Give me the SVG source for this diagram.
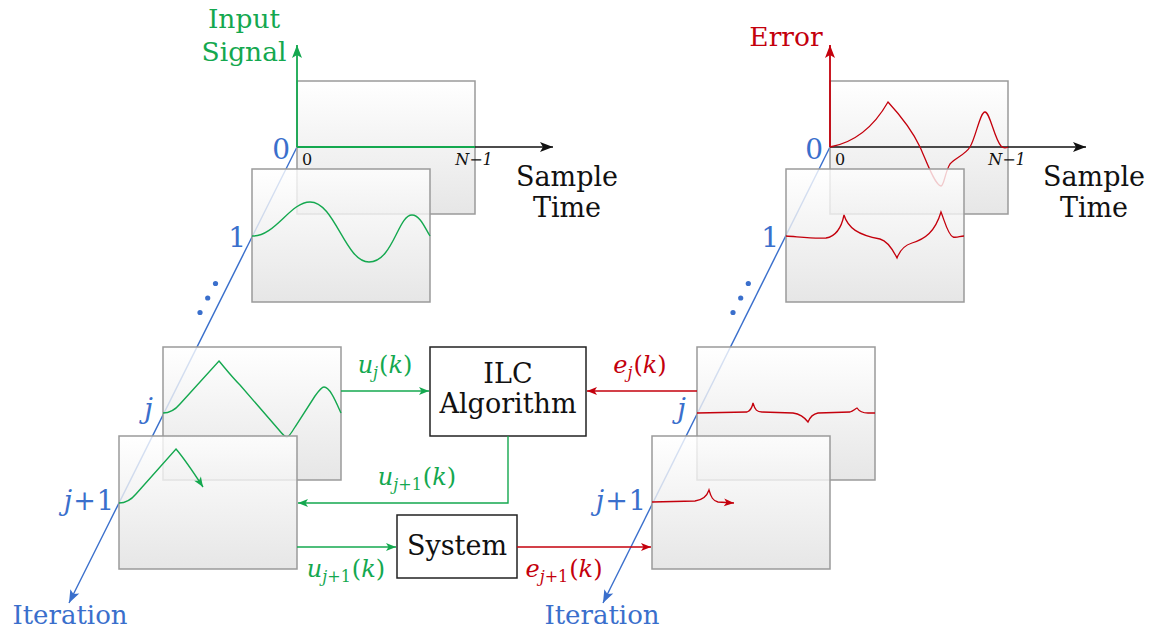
<svg xmlns="http://www.w3.org/2000/svg" width="1156" height="630" viewBox="0 0 1156 630">
<style>
.frame{fill:url(#fr);fill-opacity:0.8;stroke:#9a9a9a;stroke-width:1.5}
.box{fill:#fff;stroke:#222;stroke-width:1.5}
.blue{fill:#3a6fcc}
.green{fill:#14a84f}
.red{fill:#c4000c}
.blk{fill:#111}
.gc{fill:none;stroke:#14a84f;stroke-width:1.4}
.rc{fill:none;stroke:#c4000c;stroke-width:1.3}
.it{font-style:italic}
</style>
<defs>
<linearGradient id="fr" x1="0" y1="0" x2="0" y2="1">
<stop offset="0" stop-color="#ffffff"/>
<stop offset="1" stop-color="#e0e0e0"/>
</linearGradient>
<marker id="aK" viewBox="-14 -6 15 12" refX="0" refY="0" markerWidth="15" markerHeight="12" orient="auto" markerUnits="userSpaceOnUse"><path d="M0,0 L-13,-5 L-10,0 L-13,5 Z" fill="#111"/></marker>
<marker id="aG" viewBox="-14 -6 15 12" refX="0" refY="0" markerWidth="15" markerHeight="12" orient="auto" markerUnits="userSpaceOnUse"><path d="M0,0 L-13,-5 L-10,0 L-13,5 Z" fill="#14a84f"/></marker>
<marker id="aR" viewBox="-14 -6 15 12" refX="0" refY="0" markerWidth="15" markerHeight="12" orient="auto" markerUnits="userSpaceOnUse"><path d="M0,0 L-13,-5 L-10,0 L-13,5 Z" fill="#c4000c"/></marker>
<marker id="aB" viewBox="-14 -6 15 12" refX="0" refY="0" markerWidth="15" markerHeight="12" orient="auto" markerUnits="userSpaceOnUse"><path d="M0,0 L-13,-5 L-10,0 L-13,5 Z" fill="#3a6fcc"/></marker>
<marker id="sG" viewBox="-11 -5 12 10" refX="0" refY="0" markerWidth="12" markerHeight="10" orient="auto" markerUnits="userSpaceOnUse"><path d="M0,0 L-10,-4 L-7.5,0 L-10,4 Z" fill="#14a84f"/></marker>
<marker id="sR" viewBox="-11 -5 12 10" refX="0" refY="0" markerWidth="12" markerHeight="10" orient="auto" markerUnits="userSpaceOnUse"><path d="M0,0 L-10,-4 L-7.5,0 L-10,4 Z" fill="#c4000c"/></marker>
</defs>
<g font-family="'DejaVu Serif', serif">

<!-- iteration axes -->
<g id="iteration-axes">
<line x1="297" y1="147" x2="69" y2="603" stroke="#3a6fcc" stroke-width="1.4" marker-end="url(#aB)"/>
<line x1="830" y1="147" x2="603" y2="603" stroke="#3a6fcc" stroke-width="1.4" marker-end="url(#aB)"/>
<circle cx="215.5" cy="283.5" r="2.6" class="blue"/>
<circle cx="207.7" cy="298" r="2.6" class="blue"/>
<circle cx="200" cy="312.5" r="2.6" class="blue"/>
<circle cx="748.3" cy="283.5" r="2.6" class="blue"/>
<circle cx="740.7" cy="298" r="2.6" class="blue"/>
<circle cx="733" cy="312.5" r="2.6" class="blue"/>
<text x="70" y="624" class="blue" font-size="26" text-anchor="middle">Iteration</text>
<text x="602" y="624" class="blue" font-size="26" text-anchor="middle">Iteration</text>
<text x="290" y="159" class="blue" font-size="28" text-anchor="end">0</text>
<text x="246" y="247" class="blue" font-size="28" text-anchor="end">1</text>
<text x="153" y="418" class="blue it" font-size="28" text-anchor="end">j</text>
<text x="114" y="510" class="blue" font-size="27" text-anchor="end"><tspan class="it">j</tspan><tspan dx="1">+</tspan><tspan dx="1">1</tspan></text>
<text x="823" y="159" class="blue" font-size="28" text-anchor="end">0</text>
<text x="779" y="247" class="blue" font-size="28" text-anchor="end">1</text>
<text x="686" y="418" class="blue it" font-size="28" text-anchor="end">j</text>
<text x="646" y="510" class="blue" font-size="27" text-anchor="end"><tspan class="it">j</tspan><tspan dx="1">+</tspan><tspan dx="1">1</tspan></text>
</g>

<!-- LEFT: input signal -->
<g id="input-frame-0">
<rect x="297" y="81" width="178" height="133" class="frame"/>
</g>
<g id="input-axes">
<line x1="297" y1="147" x2="553" y2="147" stroke="#111" stroke-width="1.6" marker-end="url(#aK)"/>
<line x1="297" y1="147" x2="297" y2="45" stroke="#14a84f" stroke-width="1.8" marker-end="url(#aG)"/>
<line x1="297" y1="147" x2="475" y2="147" stroke="#14a84f" stroke-width="1.8"/>
<text x="244" y="28" class="green" font-size="26.5" text-anchor="middle">Input</text>
<text x="244" y="61" class="green" font-size="26.5" text-anchor="middle">Signal</text>
<text x="302" y="165" class="blk" font-size="16">0</text>
<text x="474" y="165" class="blk it" font-size="16" text-anchor="middle">N−1</text>
<text x="567" y="186" class="blk" font-size="27" text-anchor="middle">Sample</text>
<text x="567" y="217" class="blk" font-size="27" text-anchor="middle">Time</text>
</g>
<g id="input-frame-1">
<rect x="252" y="169" width="178" height="133" class="frame"/>
<path class="gc" d="M252,236 C275,237 290,202 310,202 C335,202 345,262 369,262 C393,262 398,215 412,215 C420,215 425,228 430,236"/>
</g>
<g id="input-frame-j">
<rect x="163" y="347" width="178" height="133" class="frame"/>
<path class="gc" d="M163,413 C170,413 175,410 180,404 L219,361 C225,368 232,377 240,385 L279,430 C283,435 285,437 287,437 C289,437 292,432 295,427 L315,396 C320,389 322,387 324,387 C330,387 336,402 341,413"/>
</g>
<g id="input-frame-j1">
<rect x="119" y="436" width="178" height="133" class="frame"/>
<path class="gc" d="M119,503 C126,503 131,500 136,494 L176,449 C182,456 190,467 203,487" marker-end="url(#sG)"/>
</g>

<!-- RIGHT: error -->
<g id="error-frame-0">
<rect x="830" y="81" width="178" height="133" class="frame"/>
</g>
<g id="error-axes">
<line x1="830" y1="147" x2="1086" y2="147" stroke="#111" stroke-width="1.6" marker-end="url(#aK)"/>
<line x1="830" y1="147" x2="830" y2="45" stroke="#c4000c" stroke-width="1.8" marker-end="url(#aR)"/>
<path class="rc" d="M830,147 C852,143 872,130 888,102 C900,115 912,130 920,147 C926,160 935,186 941,186 C944,186 945,172 950,164 C955,158 965,155 970,147 C976,137 980,112 985,112 C990,112 994,138 1001,146 C1004,149 1006,148 1008,147"/>
<text x="786" y="46" class="red" font-size="26.5" text-anchor="middle">Error</text>
<text x="835" y="165" class="blk" font-size="16">0</text>
<text x="1007" y="165" class="blk it" font-size="16" text-anchor="middle">N−1</text>
<text x="1094" y="186" class="blk" font-size="27" text-anchor="middle">Sample</text>
<text x="1094" y="217" class="blk" font-size="27" text-anchor="middle">Time</text>
</g>
<g id="error-frame-1">
<rect x="786" y="169" width="178" height="133" class="frame"/>
<path class="rc" d="M786,236 C800,237 815,239 826,238 C838,236 842,225 844,215 C848,228 858,235 880,239 C888,241 893,250 897,258 C900,250 905,245 912,243 C925,239 935,232 941,212 C945,222 948,235 953,237 C957,238 960,236 964,236"/>
</g>
<g id="error-frame-j">
<rect x="697" y="347" width="178" height="133" class="frame"/>
<path class="rc" d="M697,413 L747,412 C750,411 752,408 753,403 C755,410 757,412 762,412 L793,413 C800,414 805,418 808,422 C810,417 813,414 818,413 L850,412 C853,411 855,409 857,408 C859,411 862,413 868,413 L875,413"/>
</g>
<g id="error-frame-j1">
<rect x="652" y="436" width="178" height="133" class="frame"/>
<path class="rc" d="M652,502 L695,501 C703,500 707,496 709,490 C711,497 713,501 718,502 L734,503" marker-end="url(#sR)"/>
</g>

<!-- blocks -->
<g id="ilc">
<rect x="430" y="347" width="156" height="89" class="box"/>
<text x="508" y="383" class="blk" font-size="27" text-anchor="middle">ILC</text>
<text x="508" y="413" class="blk" font-size="27" text-anchor="middle">Algorithm</text>
</g>
<g id="system">
<rect x="397" y="515" width="120" height="63" class="box"/>
<text x="457" y="555" class="blk" font-size="27" text-anchor="middle">System</text>
</g>

<!-- connectors -->
<g id="connectors">
<line x1="341" y1="391" x2="429" y2="391" stroke="#14a84f" stroke-width="1.4" marker-end="url(#sG)"/>
<line x1="697" y1="391" x2="587" y2="391" stroke="#c4000c" stroke-width="1.4" marker-end="url(#sR)"/>
<polyline points="508,436 508,503 298,503" fill="none" stroke="#14a84f" stroke-width="1.4" marker-end="url(#sG)"/>
<line x1="297" y1="547" x2="396" y2="547" stroke="#14a84f" stroke-width="1.4" marker-end="url(#sG)"/>
<line x1="517" y1="547" x2="651" y2="547" stroke="#c4000c" stroke-width="1.4" marker-end="url(#sR)"/>
<text x="385" y="373" class="green" font-size="24" text-anchor="middle"><tspan class="it">u</tspan><tspan class="it" font-size="16" dy="5">j</tspan><tspan dy="-5" dx="1">(</tspan><tspan class="it">k</tspan>)</text>
<text x="640" y="373" class="red" font-size="24" text-anchor="middle"><tspan class="it">e</tspan><tspan class="it" font-size="16" dy="5">j</tspan><tspan dy="-5" dx="1">(</tspan><tspan class="it">k</tspan>)</text>
<text x="417" y="485" class="green" font-size="24" text-anchor="middle"><tspan class="it">u</tspan><tspan class="it" font-size="16" dy="5">j</tspan><tspan font-size="16">+1</tspan><tspan dy="-5" dx="1">(</tspan><tspan class="it">k</tspan>)</text>
<text x="346" y="577" class="green" font-size="24" text-anchor="middle"><tspan class="it">u</tspan><tspan class="it" font-size="16" dy="5">j</tspan><tspan font-size="16">+1</tspan><tspan dy="-5" dx="1">(</tspan><tspan class="it">k</tspan>)</text>
<text x="564" y="577" class="red" font-size="24" text-anchor="middle"><tspan class="it">e</tspan><tspan class="it" font-size="16" dy="5">j</tspan><tspan font-size="16">+1</tspan><tspan dy="-5" dx="1">(</tspan><tspan class="it">k</tspan>)</text>
</g>
</g>
</svg>
